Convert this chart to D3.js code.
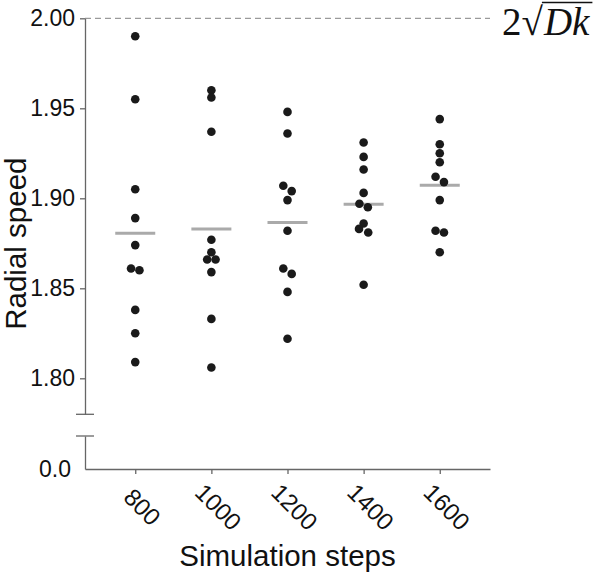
<!DOCTYPE html>
<html>
<head>
<meta charset="utf-8">
<script src="https://cdn.jsdelivr.net/npm/d3@7"></script>
<style>
  body { margin: 0; background: #fff; }
  text { font-family: "Liberation Sans", Arial, sans-serif; fill: #111; }
</style>
</head>
<body>
<div id="plot"></div>
<script>
// Chart data
var steps = ["800", "1000", "1200", "1400", "1600"];
var speed800  = [1.990, 1.955, 1.905, 1.889, 1.874, 1.861, 1.860, 1.838, 1.825, 1.809];
var speed1000 = [1.960, 1.956, 1.937, 1.877, 1.870, 1.866, 1.866, 1.859, 1.833, 1.806];
var speed1200 = [1.948, 1.936, 1.907, 1.904, 1.899, 1.882, 1.861, 1.858, 1.848, 1.822];
var speed1400 = [1.931, 1.923, 1.916, 1.903, 1.897, 1.895, 1.886, 1.883, 1.881, 1.852];
var speed1600 = [1.944, 1.930, 1.925, 1.920, 1.912, 1.909, 1.899, 1.882, 1.881, 1.870];
var upperTicks = [1.80, 1.85, 1.90, 1.95, 2.00];
var lowerTicks = [0.0];
var limitValue = 2.0;

var w = 600, h = 583;
var left = 85, right = 490;
var yBreakTop = 414.3, yBreakBottom = 436, yBase = 469, yTopPx = 18.3;

var svg = d3.select("#plot").append("svg")
    .attr("width", w)
    .attr("height", h);

// scales
var xScale = d3.scalePoint()
    .domain(steps)
    .range([left, right])
    .padding(0.66);

var yScale = d3.scaleLinear()
    .domain([1.78, 2.0])
    .range([yBreakTop, yTopPx]);

var yLow = d3.scaleLinear()
    .domain([0, 0.1])
    .range([yBase, yBreakBottom]);

// limit line 2*sqrt(Dk)
svg.append("line")
    .attr("x1", left).attr("x2", right)
    .attr("y1", yScale(limitValue)).attr("y2", yScale(limitValue))
    .attr("stroke", "#9a9a9a")
    .attr("stroke-width", 1.2)
    .attr("stroke-dasharray", "6,4");

// axes
var axisColor = "#666";
var yAxis = d3.axisLeft(yScale)
    .tickValues(upperTicks)
    .tickFormat(d3.format(".2f"))
    .tickSize(5)
    .tickSizeOuter(0)
    .tickPadding(5);
var gy = svg.append("g")
    .attr("transform", "translate(" + left + ",0)")
    .call(yAxis);

var yAxisLow = d3.axisLeft(yLow)
    .tickValues(lowerTicks)
    .tickFormat(d3.format(".1f"))
    .tickSize(0)
    .tickSizeOuter(0)
    .tickPadding(14);
var gyl = svg.append("g")
    .attr("transform", "translate(" + left + ",0)")
    .call(yAxisLow);

var xAxis = d3.axisBottom(xScale)
    .tickSize(5)
    .tickSizeOuter(0)
    .tickFormat("");
var gx = svg.append("g")
    .attr("transform", "translate(0," + yBase + ")")
    .call(xAxis);

[gy, gyl, gx].forEach(function(g) {
  g.selectAll("path, line").attr("stroke", axisColor).attr("stroke-width", 1.3);
  g.selectAll("text").style("font-size", "23px").attr("fill", "#111");
});

// break marks
[yBreakTop, yBreakBottom].forEach(function(y) {
  svg.append("line")
      .attr("x1", left - 9).attr("x2", left + 9)
      .attr("y1", y).attr("y2", y)
      .attr("stroke", axisColor)
      .attr("stroke-width", 1.3);
});

// rotated x tick labels
svg.selectAll(".xlab")
    .data(steps)
    .enter().append("text")
    .attr("class", "xlab")
    .attr("text-anchor", "middle")
    .attr("dy", "0.35em")
    .style("font-size", "24px")
    .attr("transform", function(d) { return "translate(" + (xScale(d) + 7) + ",507) rotate(45)"; })
    .text(function(d) { return d; });

// axis titles
svg.append("text")
    .attr("x", (left + right) / 2)
    .attr("y", 566)
    .attr("text-anchor", "middle")
    .style("font-size", "29.5px")
    .text("Simulation steps");

svg.append("text")
    .attr("transform", "translate(26," + ((yTopPx + yBase) / 2) + ") rotate(-90)")
    .attr("text-anchor", "middle")
    .style("font-size", "29.5px")
    .text("Radial speed");

// limit label
var lab1 = svg.append("text")
    .attr("x", 502).attr("y", 35)
    .style("font-family", "'Liberation Serif', serif")
    .style("font-size", "39px")
    .text("2\u221A");
var lab1w = lab1.node().getComputedTextLength();
var lab2 = svg.append("text")
    .attr("x", 503 + lab1w).attr("y", 35)
    .style("font-family", "'Liberation Serif', serif")
    .style("font-style", "italic")
    .style("font-size", "39px")
    .text("Dk");
var lab2w = lab2.node().getComputedTextLength();
svg.append("line")
    .attr("x1", 502 + lab1w - 1).attr("x2", 503 + lab1w + lab2w + 3)
    .attr("y1", 2.5).attr("y2", 2.5)
    .attr("stroke", "#111")
    .attr("stroke-width", 1.4);

// data groups
var groups = [speed800, speed1000, speed1200, speed1400, speed1600].map(function(vals, i) {
  return { step: steps[i], values: vals };
});

// dodge close points sideways
function dodge(vals) {
  var sorted = vals.slice().sort(function(a, b) { return b - a; });
  var out = [];
  var cluster = [];
  function flush() {
    var offs = cluster.length === 1 ? [0] :
               cluster.length === 2 ? [-4.2, 4.2] : [0, -4.6, 4.6];
    cluster.forEach(function(v, k) { out.push({ value: v, dx: offs[k] || 0 }); });
    cluster = [];
  }
  sorted.forEach(function(v) {
    if (cluster.length && yScale(v) - yScale(cluster[cluster.length - 1]) >= 7) flush();
    cluster.push(v);
  });
  if (cluster.length) flush();
  return out;
}

// mean lines
svg.selectAll(".mean")
    .data(groups)
    .enter().append("line")
    .attr("class", "mean")
    .attr("x1", function(d) { return xScale(d.step) - 20; })
    .attr("x2", function(d) { return xScale(d.step) + 20; })
    .attr("y1", function(d) { return yScale(d3.mean(d.values)); })
    .attr("y2", function(d) { return yScale(d3.mean(d.values)); })
    .attr("stroke", "#aaaaaa")
    .attr("stroke-width", 3);

// points
groups.forEach(function(g) {
  svg.selectAll(".pt" + g.step)
      .data(dodge(g.values))
      .enter().append("circle")
      .attr("class", "pt" + g.step)
      .attr("cx", function(d) { return xScale(g.step) + d.dx; })
      .attr("cy", function(d) { return yScale(d.value); })
      .attr("r", 4.3)
      .attr("fill", "#1a1a1a");
});
</script>
</body>
</html>
